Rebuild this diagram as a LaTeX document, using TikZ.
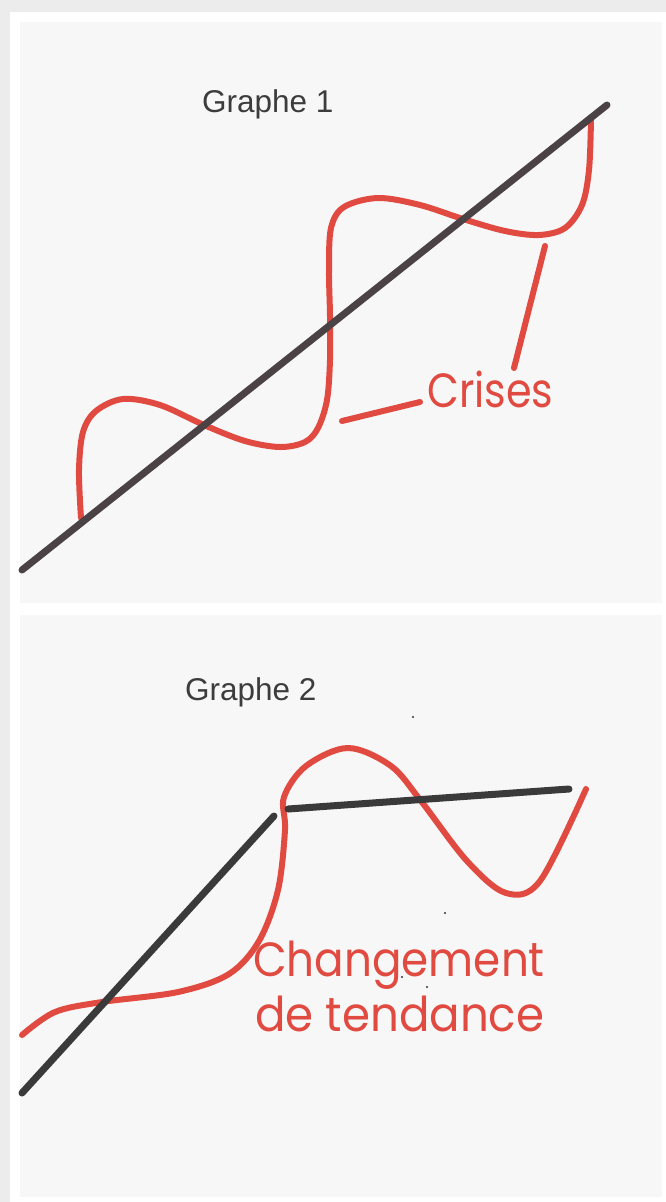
\documentclass[tikz,border=0pt]{standalone}
\usepackage{fontspec}
\setmainfont{Liberation Sans}
\newfontfamily\handfont{Poppins}
\definecolor{outerbg}{HTML}{ECECEC}
\definecolor{panelbg}{HTML}{F7F7F7}
\definecolor{redink}{HTML}{E04A40}
\definecolor{darkink}{HTML}{4A4245}
\definecolor{darkink2}{HTML}{3A3A3A}
\definecolor{titleink}{HTML}{3C3C3C}
\begin{document}
\begin{tikzpicture}[x=1pt,y=-1pt,
  redcurve/.style={draw=redink,line width=6pt,line cap=round,line join=round},
  trendline/.style={draw=darkink,line width=7pt,line cap=round},
  trendline2/.style={draw=darkink2,line width=7pt,line cap=round},
  titletext/.style={font=\fontsize{31.5}{36}\selectfont,text=titleink,inner sep=0pt,anchor=base west},
  handtext/.style={font=\handfont\fontsize{48}{52}\selectfont,text=redink,inner sep=0pt,anchor=base west},
  speck/.style={fill=black!80,draw=none}]
\useasboundingbox (0,0) rectangle (666,1202);
\fill[outerbg] (0,0) rectangle (666,1202);
\fill[white] (10,12) rectangle (666,1202);
\fill[panelbg] (20,22) rectangle (662,603);
\fill[panelbg] (20,615) rectangle (662,1197);

% ---------- Graphe 1 ----------
\node[titletext] (t1) at (202,112) {Graphe 1};
\draw[redcurve] plot[smooth,tension=0.55] coordinates {
 (81,518) (79,470) (83,432) (96,411) (123,399) (160,405) (204,425) (245,441)
 (280,447) (305,442) (318,428) (327,400) (330,360) (330,316) (329,270) (331,228)
 (344,207) (378,198) (420,205) (463,219) (505,231) (539,235) (565,228) (582,205)
 (589,170) (591,119)};
\coordinate (c1a) at (342,421);
\coordinate (c1b) at (420,402);
\coordinate (c2a) at (514,368);
\coordinate (c2b) at (545,246);
\draw[redcurve] (c1a) -- (c1b);
\draw[redcurve] (c2a) -- (c2b);
\node[handtext] (crises) at (427,407) {\scalebox{0.86}[1]{Crises}};
\coordinate (l1a) at (22,570);
\coordinate (l1b) at (607,105);
\draw[trendline] (l1a) -- (l1b);

% ---------- Graphe 2 ----------
\node[titletext] (t2) at (185,700) {Graphe 2};
\draw[redcurve] plot[smooth,tension=0.55] coordinates {
 (22,1035) (55,1012) (102,1002) (178,992) (229,974) (259,941) (278,890)
 (285,830) (284,797) (306,766) (348,748) (391,766) (421,801) (467,861)
 (506,893) (540,881) (586,789)};
\coordinate (l2a) at (22,1093);
\coordinate (l2b) at (274,816);
\coordinate (l3a) at (288,809);
\coordinate (l3b) at (569,789);
\draw[trendline2] (l2a) -- (l2b);
\draw[trendline2] (l3a) -- (l3b);
\node[handtext] (chg) at (253,976) {\scalebox{0.91}[1]{Changement}};
\node[handtext] (tend) at (255,1031) {\scalebox{0.94}[1]{de tendance}};
\fill[speck] (413,717) circle (1.2);
\fill[speck] (445,913) circle (1.2);
\fill[speck] (402,977) circle (1.1);
\fill[speck] (427,987) circle (1.1);
\end{tikzpicture}
\end{document}
